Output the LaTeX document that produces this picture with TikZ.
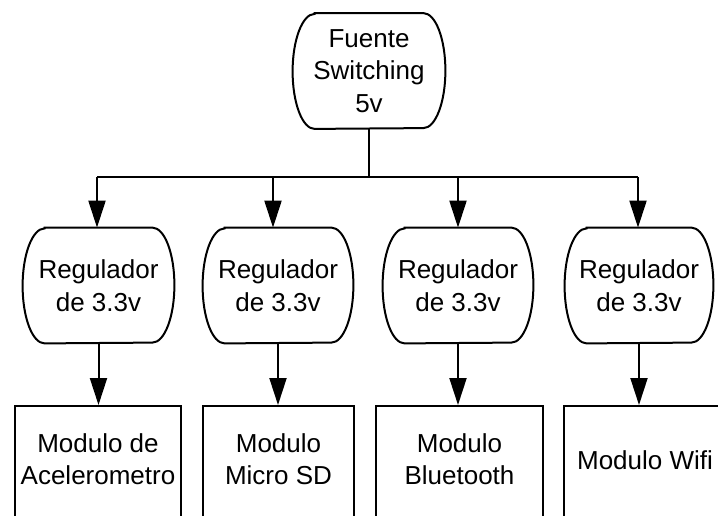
\documentclass[tikz,border=0pt]{standalone}
\usepackage{fontspec}
\setmainfont{Liberation Sans}
\usetikzlibrary{arrows.meta}
\tikzset{
  line/.style={draw=black, line width=1pt},
  arr/.style={line, -{Triangle[length=13.5pt,width=8.5pt]}},
  txt/.style={font=\fontsize{13}{16.25}\selectfont, align=center, inner sep=0pt},
  term/.style={txt, minimum height=57.5pt},
  box/.style={line, minimum height=70pt, inner sep=0pt},
}
\newcommand{\termdraw}[1]{%
  \draw[line] ([xshift=11pt]#1.north west) -- ([xshift=-11pt]#1.north east)
    arc[start angle=90,end angle=-90,x radius=11pt,y radius=28.75pt]
    -- ([xshift=11pt]#1.south west)
    arc[start angle=270,end angle=90,x radius=11pt,y radius=28.75pt] -- cycle;}
\begin{document}
\begin{tikzpicture}[x=0.5pt,y=-0.5pt]
\useasboundingbox (0,0) rectangle (718,515);
\clip (0,0) rectangle (718,515);
% top node
\node[term, minimum width=76pt] (top) at (369,71) {Fuente\\Switching\\5v};
\termdraw{top}
% regulators
\node[term, minimum width=75.5pt] (r1) at (98.5,285.5) {Regulador\\de 3.3v};
\node[term, minimum width=75pt] (r2) at (278,285.5) {Regulador\\de 3.3v};
\node[term, minimum width=75pt] (r3) at (458,285.5) {Regulador\\de 3.3v};
\node[term, minimum width=74pt] (r4) at (639,285.5) {Regulador\\de 3.3v};
\foreach \n in {r1,r2,r3,r4} {\termdraw{\n}}
% bus
\coordinate (busL) at (97,177);
\coordinate (busR) at (638,177);
\draw[line] (top.south) -- (top.south |- busL);
\draw[line] (busL) -- (busR);
\draw[arr] (busL) -- (busL |- r1.north);
\draw[arr] ([xshift=-2.5pt]r2.north |- busL) -- ([xshift=-2.5pt]r2.north);
\draw[arr] (r3.north |- busL) -- (r3.north);
\draw[arr] (busR) -- (busR |- r4.north);
% boxes
\node[box, minimum width=83pt, anchor=north] (b1) at (98,405) {};
\node[box, minimum width=75.5pt, anchor=north] (b2) at (278.5,405) {};
\node[box, minimum width=83.5pt, anchor=north] (b3) at (459.5,405) {};
\node[box, minimum width=82pt, anchor=north] (b4) at (646,405) {};
\node[txt] (t1) at ([yshift=-27pt]b1.north) {Modulo de\\Acelerometro};
\node[txt] (t2) at ([yshift=-27pt]b2.north) {Modulo\\Micro SD};
\node[txt] (t3) at ([yshift=-27pt]b3.north) {Modulo\\Bluetooth};
\node[txt] (t4) at ([yshift=-27.5pt,xshift=-0.5pt]b4.north) {Modulo Wifi};
\draw[arr] (r1.south) -- (r1.south |- b1.north);
\draw[arr] (r2.south) -- (r2.south |- b2.north);
\draw[arr] (r3.south) -- (r3.south |- b3.north);
\draw[arr] (r4.south) -- (r4.south |- b4.north);
\end{tikzpicture}
\end{document}
